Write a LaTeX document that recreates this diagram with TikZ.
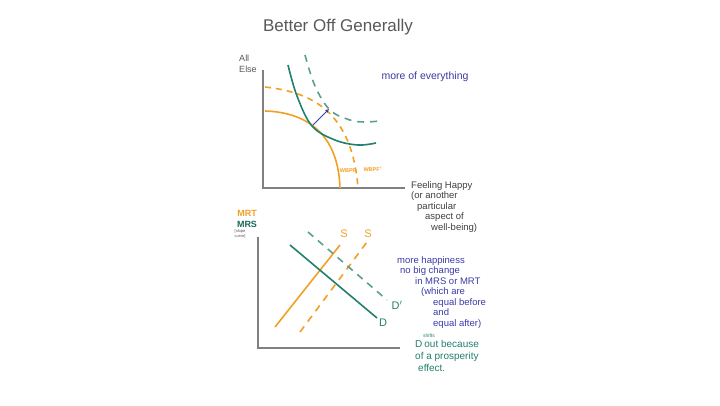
\documentclass[tikz,border=0pt]{standalone}
\usepackage{fontspec}
\setmainfont{Liberation Sans}
\usetikzlibrary{arrows.meta}
\definecolor{ppf}{HTML}{F2A024}
\definecolor{indiff}{HTML}{22806E}
\definecolor{note}{HTML}{3B3BA8}
\definecolor{axisgray}{HTML}{808080}
\tikzset{
  axis/.style={axisgray, line width=1.4pt},
  curve/.style={line width=1.6pt},
  hand/.style={inner sep=0pt, font=\fontsize{9}{10.5}\selectfont},
  handblock/.style={hand, align=left, anchor=north west}
}
\begin{document}
\begin{tikzpicture}[x=1pt,y=-1pt]
  \useasboundingbox[fill=white] (0,0) rectangle (720,405);
  \node (title) at (338,27) [hand, text=black!65, font=\fontsize{17}{19}\selectfont] {Better Off Generally};

  % top: well-being possibilities
  \draw[axis] (263,70) -- (263,188) -- (405,188);
  \node (allelse) at (248,64) [hand, align=left, text=black!65, font=\fontsize{9}{11}\selectfont] {All\\Else};
  \node (happy) at (411,181) [handblock, text=black!75, font=\fontsize{9.5}{10.5}\selectfont] {Feeling Happy\\(or another\\\hspace*{6pt}particular\\\hspace*{14pt}aspect of\\\hspace*{20pt}well-being)};
  \draw[curve, ppf] (265,111) .. controls (300,112) and (338,128) .. (340,188);
  \draw[curve, ppf, dashed, dash pattern=on 6pt off 5pt] (265,87) .. controls (310,92) and (352,110) .. (358,188);
  \draw[curve, indiff] plot[smooth, tension=0.6] coordinates {(288,65) (297,96) (312,126) (335,140) (358,145) (376,143)};
  \draw[curve, indiff!75, dashed, dash pattern=on 7pt off 6pt] plot[smooth, tension=0.6] coordinates {(305,55) (315,86) (330,110) (350,120) (365,122) (379,121)};
  \coordinate (old) at (313,125);
  \coordinate (new) at (329,109);
  \draw[note, line width=0.9pt, -{Stealth[length=4pt]}] (old) -- (new);
  \node (wbpf) at (348,171) [hand, ppf, font=\fontsize{5.5}{6}\selectfont\bfseries] {WBPF};
  \node (wbpfnew) at (373,169) [hand, ppf, font=\fontsize{5.5}{6}\selectfont\bfseries] {WBPF$'$};
  \node (more) at (425,77) [hand, note, font=\fontsize{10.5}{12}\selectfont] {more of everything};

  % bottom: MRT = MRS market
  \draw[axis] (258,237) -- (258,348) -- (400,348);
  \node (mrt) at (247,213) [hand, ppf, font=\fontsize{9}{10}\selectfont\bfseries] {MRT};
  \node (mrs) at (247,224) [hand, indiff!80!black, font=\fontsize{9}{10}\selectfont\bfseries] {MRS};
  \node (slope) at (240,234) [hand, text=black!65, font=\fontsize{4}{4.5}\selectfont, align=center] {[slope\\curve]};
  \coordinate (s1) at (275,327);
  \coordinate (s2) at (340,245);
  \coordinate (t1) at (300,332);
  \coordinate (t2) at (367,242);
  \draw[curve, ppf] (s1) -- (s2);
  \draw[curve, ppf, dashed, dash pattern=on 7pt off 6pt] (t1) -- (t2);
  \node (slabel) at (344,234) [hand, ppf, font=\fontsize{11}{12}\selectfont] {S};
  \node (tlabel) at (368,234) [hand, ppf, font=\fontsize{11}{12}\selectfont] {S};
  \coordinate (d1) at (290,245);
  \coordinate (d2) at (377,318);
  \coordinate (e1) at (308,232);
  \coordinate (e2) at (387,300);
  \draw[curve, indiff] (d1) -- (d2);
  \draw[curve, indiff!75, dashed, dash pattern=on 7pt off 6pt] (e1) -- (e2);
  \node (dlabel) at (383,323) [hand, indiff, font=\fontsize{11}{12}\selectfont] {D};
  \node (dnew) at (397,305) [hand, indiff, font=\fontsize{11}{12}\selectfont] {D$'$};
  \node (change) at (397,256) [handblock, note, font=\fontsize{9.5}{10.5}\selectfont] {more happiness\\\hspace*{3pt}no big change\\\hspace*{18pt}in MRS or MRT\\\hspace*{24pt}(which are\\\hspace*{36pt}equal before\\\hspace*{36pt}and\\\hspace*{36pt}equal after)};
  \node (shifts) at (429,336) [hand, indiff, font=\fontsize{5}{6}\selectfont] {shifts};
  \node (because) at (415,340) [handblock, indiff, font=\fontsize{10}{12}\selectfont] {D\hspace*{2pt}out because\\of a prosperity\\\hspace*{3pt}effect.};
\end{tikzpicture}
\end{document}
